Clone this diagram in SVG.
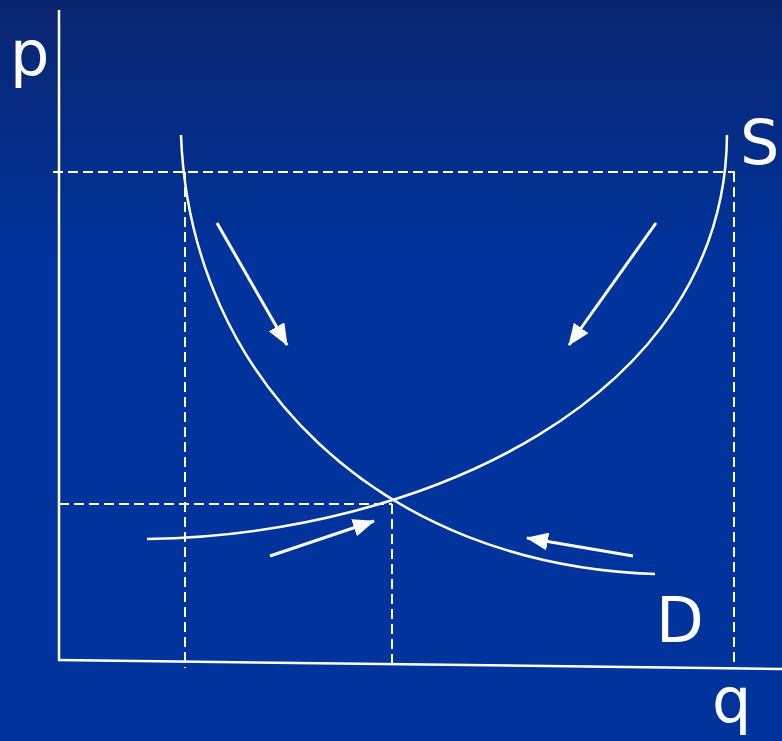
<svg xmlns="http://www.w3.org/2000/svg" width="782" height="741" viewBox="0 0 782 741">
<defs>
<linearGradient id="bg" x1="0" y1="0" x2="0" y2="1">
<stop offset="0" stop-color="#0a256f"/>
<stop offset="0.35" stop-color="#00339b"/>
<stop offset="1" stop-color="#00339c"/>
</linearGradient>
<marker id="ah2" viewBox="0 0 22 18" markerWidth="22" markerHeight="18" refX="21" refY="9" orient="auto" markerUnits="userSpaceOnUse">
<path d="M0,0 L22,9 L0,18 z" fill="#fff"/>
</marker>
</defs>
<style>
.ax{stroke:#fff;stroke-width:2.5;fill:none}
.dash{stroke:#fff;stroke-width:2;stroke-dasharray:10,5;fill:none}
.cur{stroke:#fff;stroke-width:2.5;fill:none}
.arr{stroke:#fff;stroke-width:3;fill:none;marker-end:url(#ah2)}
.lbl{fill:#fff;font-family:"Comic Sans MS","DejaVu Sans",sans-serif;font-size:62px}
</style>
<rect width="782" height="741" fill="url(#bg)"/>
<g id="axes">
<line class="ax" x1="59" y1="10" x2="59" y2="661"/>
<line class="ax" x1="58" y1="660" x2="782" y2="669"/>
</g>
<g id="guides">
<line class="dash" x1="53" y1="172" x2="735" y2="172"/>
<line class="dash" x1="185" y1="172" x2="185" y2="668"/>
<line class="dash" x1="734" y1="172" x2="734" y2="668"/>
<line class="dash" x1="59" y1="504" x2="392" y2="504"/>
<line class="dash" x1="392" y1="504" x2="392" y2="663"/>
</g>
<g id="demand">
<path class="cur" d="M181,135 C190,380 380,565 655,574"/>
</g>
<g id="supply">
<path class="cur" d="M147,539 C420,535 725,400 727,135"/>
</g>
<g id="connectors">
<line class="arr" x1="217" y1="223" x2="287" y2="345"/>
<line class="arr" x1="656" y1="223" x2="569" y2="345"/>
<line class="arr" x1="270" y1="556" x2="374" y2="521"/>
<line class="arr" x1="633" y1="556" x2="527" y2="538"/>
</g>
<g id="labels">
<text class="lbl" x="10" y="75">p</text>
<text class="lbl" x="740" y="164">S</text>
<text class="lbl" x="656" y="642">D</text>
<text class="lbl" x="712" y="722">q</text>
</g>
</svg>
